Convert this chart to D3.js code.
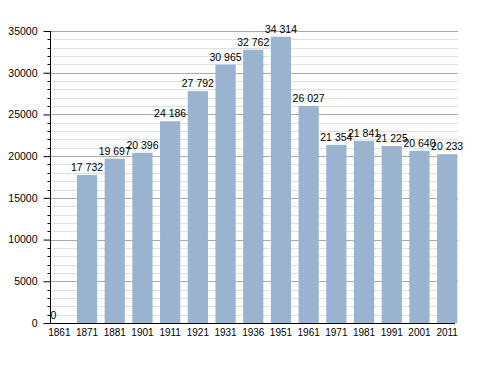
<!DOCTYPE html>
<html><head><meta charset="utf-8">
<script src="https://cdn.jsdelivr.net/npm/d3@7"></script>
<style>body{margin:0;background:#fff}svg{display:block}text{font-family:"Liberation Sans",Arial,sans-serif}</style>
</head><body>
<script>
const years = ["1861","1871","1881","1901","1911","1921","1931","1936","1951","1961","1971","1981","1991","2001","2011"];
const population = [0,17732,19697,20396,24186,27792,30965,32762,34314,26027,21354,21841,21225,20640,20233];
const labels = ["0","17 732","19 697","20 396","24 186","27 792","30 965","32 762","34 314","26 027","21 354","21 841","21 225","20 640","20 233"];
const yTicks = [0,5000,10000,15000,20000,25000,30000,35000];

const W=488,H=373;
const svg=d3.select("body").append("svg").attr("width",W).attr("height",H);
const x=d3.scaleBand().domain(years).range([45.5,461]).paddingInner(0.27).paddingOuter(0.135);
const y=d3.scaleLinear().domain([0,35000]).range([323,31]);
const left=50,right=458;

const minor=d3.range(0,35001,1000).filter(v=>v%5000!==0);
svg.append("g").selectAll("line").data(minor).join("line")
  .attr("x1",left).attr("x2",right).attr("y1",d=>Math.round(y(d))+0.5).attr("y2",d=>Math.round(y(d))+0.5)
  .attr("stroke","#e0e0e0").attr("stroke-width",1);
svg.append("g").selectAll("line").data(yTicks.filter(v=>v>0)).join("line")
  .attr("x1",left).attr("x2",right).attr("y1",d=>Math.round(y(d))+0.5).attr("y2",d=>Math.round(y(d))+0.5)
  .attr("stroke","#aaaaaa").attr("stroke-width",1);

svg.append("g").selectAll("rect").data(years).join("rect")
  .attr("x",d=>x(d)).attr("width",x.bandwidth())
  .attr("y",(d,i)=>y(population[i])).attr("height",(d,i)=>y(0)-y(population[i]))
  .attr("fill","#9ab3cf");

svg.append("g").selectAll("text").data(years).join("text")
  .attr("x",(d,i)=>population[i]===0? left+0.5 : x(d)+x.bandwidth()/2)
  .attr("y",(d,i)=>y(population[i])-4)
  .attr("text-anchor",(d,i)=>population[i]===0?"start":"middle")
  .attr("font-size",10.5).attr("fill","#000")
  .text((d,i)=>labels[i]);

// y axis
const ya=svg.append("g").attr("transform",`translate(${left+0.5},0)`);
ya.call(d3.axisLeft(y).tickValues(yTicks).tickFormat(d3.format("d")).tickSize(7).tickPadding(6));
ya.selectAll(".minor").data(minor).join("line").attr("class","minor")
  .attr("x1",-3).attr("x2",0).attr("y1",d=>Math.round(y(d))+0.5).attr("y2",d=>Math.round(y(d))+0.5).attr("stroke","#000");
ya.select(".domain").attr("d",`M0,${y(35000)}V${y(0)}`);
ya.selectAll("text").attr("font-size",10.5).attr("font-family","Liberation Sans, Arial, sans-serif").attr("fill","#000");

// x axis
const xa=svg.append("g").attr("transform",`translate(0,${y(0)+0.5})`);
xa.call(d3.axisBottom(x).tickSize(0).tickPadding(5));
xa.select(".domain").attr("d",`M${left},0H${455}`);
xa.selectAll("text").attr("font-size",10).attr("font-family","Liberation Sans, Arial, sans-serif").attr("fill","#000");
</script>
</body></html>
